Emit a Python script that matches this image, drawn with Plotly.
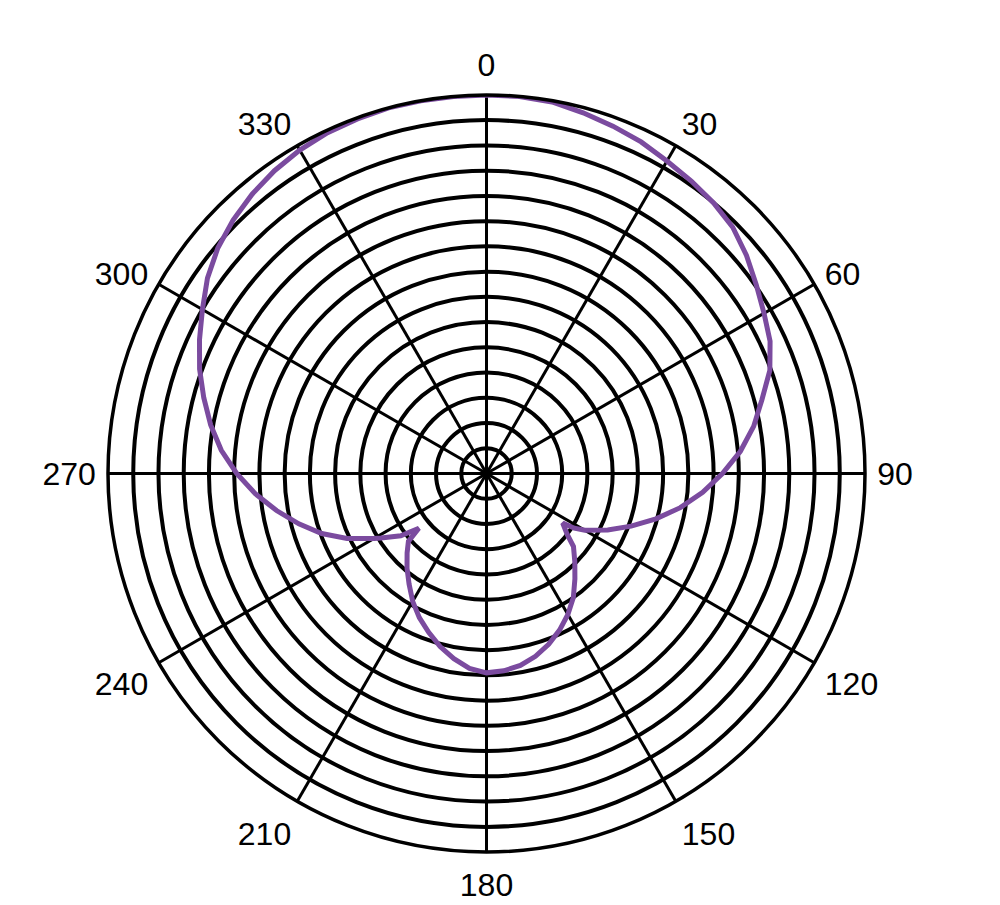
import plotly.graph_objects as go

# Polar response (ring units, outer ring = 15)
angles_deg = [0, 5, 10, 15, 20, 25, 30, 35, 40, 45, 50, 55, 60, 65, 70, 75, 80, 85, 90,
              95, 100, 105, 110, 115, 120, 121.9, 123, 127, 130, 135, 140, 145, 150, 155,
              160, 165, 170, 175, 180, 185, 190, 195, 200, 205, 210, 215, 220, 225, 229,
              231, 234, 238.5, 240, 245, 250, 255, 260, 265, 270, 275, 280, 285, 290, 295,
              300, 305, 310, 315, 320, 325, 330, 335, 340, 345, 350, 355, 360]
response = [15, 15, 14.95, 14.8, 14.65, 14.5, 14.3, 14.15, 14.0, 13.8, 13.45, 13.05, 12.7,
            12.4, 11.95, 11.3, 10.75, 10.1, 9.35, 8.6, 7.8, 6.95, 6.1, 5.3, 4.5, 4.1, 3.6,
            4.0, 4.5, 4.95, 5.45, 6.0, 6.45, 6.85, 7.2, 7.5, 7.72, 7.85, 7.9, 7.75, 7.45,
            7.1, 6.7, 6.3, 5.85, 5.35, 4.9, 4.45, 4.1, 3.45, 4.2, 4.9, 5.15, 6.1, 6.95,
            7.7, 8.45, 9.2, 9.9, 10.55, 11.1, 11.6, 12.1, 12.55, 13.0, 13.5, 13.9, 14.2,
            14.45, 14.65, 14.8, 14.9, 14.95, 15, 15, 15, 15]

tick_vals = [0, 30, 60, 90, 120, 150, 180, 210, 240, 270, 300, 330]
tick_text = ["0", "30", "60", "90", "120", "150", "180", "210", "240", "270", "300", "330"]
ring_count = 15

fig = go.Figure()
fig.add_trace(go.Scatterpolar(
    r=response, theta=angles_deg, mode="lines",
    line=dict(color="#7b4b9f", width=5),
    showlegend=False, hoverinfo="skip",
))

fig.update_layout(
    width=1000, height=905,
    margin=dict(l=100, r=143, t=87, b=61),
    paper_bgcolor="white", plot_bgcolor="white",
    polar=dict(
        bgcolor="white",
        radialaxis=dict(range=[0, ring_count], dtick=1, showticklabels=False, ticks="",
                        showline=False, gridcolor="black", gridwidth=3.5),
        angularaxis=dict(rotation=90, direction="clockwise",
                         tickmode="array", tickvals=tick_vals, ticktext=tick_text,
                         showline=True, linecolor="black", linewidth=3.5,
                         gridcolor="black", gridwidth=2.5,
                         ticks="outside", ticklen=4, tickcolor="rgba(0,0,0,0)",
                         tickfont=dict(family="Liberation Sans", size=32, color="black")),
    ),
)

fig.write_html("out.html")
